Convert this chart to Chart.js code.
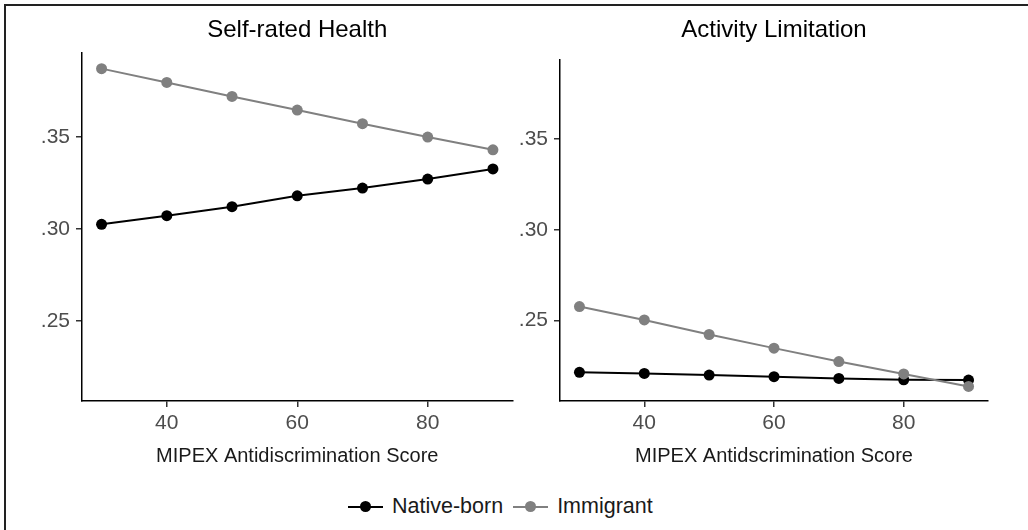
<!DOCTYPE html>
<html>
<head>
<meta charset="utf-8">
<script src="https://cdn.jsdelivr.net/npm/chart.js@4"></script>
<style>
  body { margin: 0; background: #fff; width: 1028px; height: 530px; position: relative; overflow: hidden; font-family: "Liberation Sans", Arial, sans-serif; }
  #frame { position: absolute; left: 4px; top: 4px; width: 1040px; height: 540px; border-left: 2px solid #222; border-top: 2px solid #222; }
  canvas { position: absolute; top: 0; }
  #legend { position: absolute; left: 348px; top: 494px; display: flex; align-items: center; font-size: 21.5px; color: #1a1a1a; }
  .key { position: relative; width: 35px; height: 2px; margin-right: 9px; }
  .key span { position: absolute; left: 12px; top: -4.5px; width: 11px; height: 11px; border-radius: 50%; }
</style>
</head>
<body>
<div id="frame"></div>
<canvas id="health" width="518" height="472" style="left:0"></canvas>
<canvas id="limit" width="510" height="472" style="left:518px"></canvas>
<div id="legend">
  <div class="key" style="background:#000"><span style="background:#000"></span></div>
  <div style="margin-right:10px">Native-born</div>
  <div class="key" style="background:#808080"><span style="background:#808080"></span></div>
  <div>Immigrant</div>
</div>
<script>
// MIPEX score (x) and predicted probabilities per group
const scores = [30, 40, 50, 60, 70, 80, 90];
const healthNative = [0.3024, 0.3071, 0.3120, 0.3179, 0.3221, 0.3270, 0.3325];
const healthImmigrant = [0.3870, 0.3795, 0.3719, 0.3645, 0.3571, 0.3498, 0.3429];
const limitNative = [0.2216, 0.2210, 0.2201, 0.2192, 0.2182, 0.2175, 0.2173];
const limitImmigrant = [0.2578, 0.2504, 0.2424, 0.2349, 0.2275, 0.2207, 0.2138];

const xTicks = [40, 60, 80];
const yTicks = [0.25, 0.30, 0.35];

const FONT = '"Liberation Sans", Arial, sans-serif';

// facet title centred over the plot area
const panelTitle = {
    id: 'panelTitle',
    afterDraw(chart, args, opts) {
        const { ctx, chartArea } = chart;
        ctx.save();
        ctx.font = '24px ' + FONT;
        ctx.fillStyle = '#000';
        ctx.textAlign = 'center';
        ctx.fillText(opts.text, (chartArea.left + chartArea.right) / 2, 37);
        ctx.restore();
    }
};

function points(ys) {
    return scores.map((x, i) => ({ x: x, y: ys[i] }));
}

function makePanel(id, title, xTitle, native, immigrant, yMin, yMax, yWidth, padTop, padRight) {
    return new Chart(document.getElementById(id), {
        type: 'line',
        data: {
            datasets: [{
                label: 'Native-born',
                data: points(native),
                borderColor: '#000',
                backgroundColor: '#000',
                borderWidth: 2,
                pointRadius: 5.5,
                pointBorderWidth: 0,
                order: 1
            }, {
                label: 'Immigrant',
                data: points(immigrant),
                borderColor: '#808080',
                backgroundColor: '#808080',
                borderWidth: 2,
                pointRadius: 5.5,
                pointBorderWidth: 0,
                order: 0
            }]
        },
        options: {
            responsive: false,
            animation: false,
            layout: { padding: { top: padTop, right: padRight, left: 0, bottom: 0 } },
            scales: {
                x: {
                    type: 'linear',
                    min: 27,
                    max: 93,
                    afterBuildTicks: s => { s.ticks = xTicks.map(v => ({ value: v })); },
                    afterFit: s => { s.height = 71; },
                    border: { color: '#000', width: 1.5 },
                    grid: { drawOnChartArea: false, tickLength: 6, color: '#333', lineWidth: 1.5 },
                    ticks: { color: '#4d4d4d', font: { family: FONT, size: 21 }, padding: 4 },
                    title: { display: true, text: xTitle, color: '#1a1a1a', font: { family: FONT, size: 20 }, padding: { top: 2 } }
                },
                y: {
                    min: yMin,
                    max: yMax,
                    afterBuildTicks: s => { s.ticks = yTicks.map(v => ({ value: v })); },
                    afterFit: s => { s.width = yWidth; },
                    border: { color: '#000', width: 1.5 },
                    grid: { drawOnChartArea: false, tickLength: 6, color: '#333', lineWidth: 1.5 },
                    ticks: {
                        color: '#4d4d4d',
                        font: { family: FONT, size: 21 },
                        padding: 6,
                        callback: v => v.toFixed(2).replace(/^0/, '')
                    }
                }
            },
            plugins: {
                legend: { display: false },
                tooltip: { enabled: false },
                panelTitle: { text: title }
            }
        },
        plugins: [panelTitle]
    });
}

makePanel('health', 'Self-rated Health', 'MIPEX Antidiscrimination Score',
    healthNative, healthImmigrant, 0.2064, 0.3955, 82, 53, 4);
makePanel('limit', 'Activity Limitation', 'MIPEX Antidscrimination Score',
    limitNative, limitImmigrant, 0.2058, 0.3935, 42, 60, 40);
</script>
</body>
</html>
